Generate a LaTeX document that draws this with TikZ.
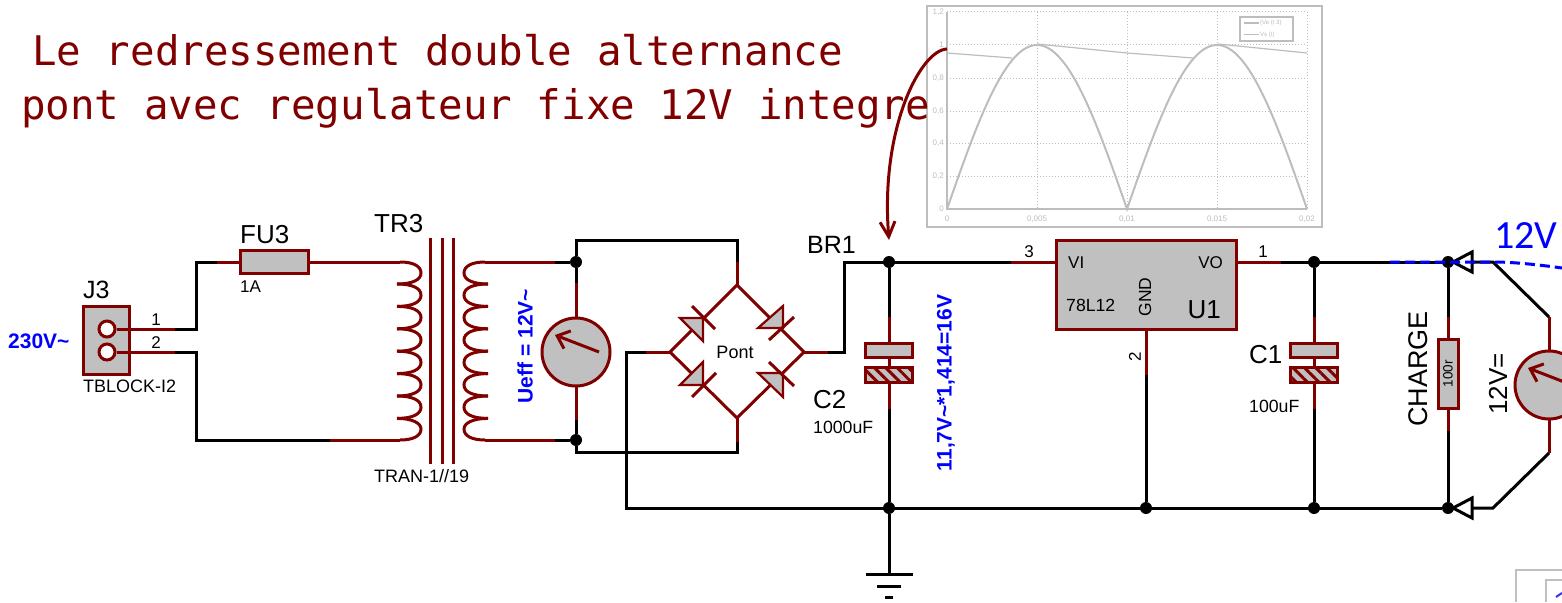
\documentclass[tikz,border=0pt]{standalone}
\usepackage{fontspec}
\setmainfont{Liberation Sans}
\newfontfamily\titlefont{DejaVu Sans Mono}
\newfontfamily\notefont{Carlito}
\usetikzlibrary{arrows.meta,patterns.meta}
\definecolor{pinred}{HTML}{800000}
\definecolor{partgray}{HTML}{C0C0C0}
\definecolor{plotgray}{HTML}{BDBDBD}

\begin{document}
\begin{tikzpicture}
   [
    x=1pt, y=-1pt,
    wire/.style={line width=3pt, draw=black, line join=miter},
    pinw/.style={line width=3pt, draw=pinred},
    partb/.style={rectangle, line width=3pt, draw=pinred, fill=partgray, inner sep=0pt},
    meter/.style={circle, line width=3pt, draw=pinred, fill=partgray, inner sep=0pt, minimum size=68pt},
    hole/.style={circle, line width=3pt, draw=pinred, fill=white, inner sep=0pt, minimum size=16pt},
    dot/.style={circle, fill=black, inner sep=0pt, minimum size=12pt},
    needle/.style={line width=3pt, draw=pinred, -{Straight Barb[length=11pt,width=19pt,line width=3pt]}},
    diode/.style={line width=2.2pt, draw=pinred, fill=partgray, line join=miter},
    hatched/.style={rectangle, line width=3pt, draw=pinred, inner sep=0pt, preaction={fill=partgray},
      pattern={Lines[angle=-45,distance=8pt,line width=3pt]}, pattern color=pinred},
    tri/.style={line width=3pt, draw=black, fill=white, line join=miter},
    txt/.style={inner sep=0pt, anchor=base west, font=\fontsize{#1}{#1}\selectfont},
    rtxt/.style={inner sep=0pt, rotate=90, font=\fontsize{#1}{#1}\selectfont},
    headline/.style={inner sep=0pt, anchor=base west, text=pinred, font=\fontsize{40.8}{41}\titlefont},
    note/.style={inner sep=0pt, rotate=90, text=blue, font=\fontsize{21}{21}\selectfont\bfseries},
    tick/.style={inner sep=0pt, text=plotgray, font=\fontsize{8}{8}\selectfont},
    grid/.style={line width=1pt, draw=plotgray, dotted},
    frame/.style={line width=2pt, draw=plotgray}
    ]

\clip (0,0) rectangle (1562,602);

% scope picture
\draw[frame] (927,6) rectangle (1322,227);
\foreach \xx in {1037,1127,1217,1307}
  \draw[grid] (\xx,12) -- (\xx,209);
\foreach \yy in {12,45,78,111,143,176}
  \draw[grid] (947,\yy) -- (1307,\yy);
\draw[line width=1.2pt, draw=plotgray] (947,12) -- (947,209) -- (1307,209);
\draw[line width=2pt, draw=plotgray, domain=0:360, samples=145]
  plot ({947+\x},{209-164*abs(sin(\x))});
\draw[line width=1.2pt, draw=plotgray] (947,53) -- (1012,58)
  (1037,44) -- (1127,53) -- (1193,58) (1218,44) -- (1307,53);
\node[tick, anchor=east] (ya) at (944,12) {1,2};
\node[tick, anchor=east] (yb) at (944,45) {1};
\node[tick, anchor=east] (yc) at (944,78) {0,8};
\node[tick, anchor=east] (yd) at (944,111) {0,6};
\node[tick, anchor=east] (ye) at (944,143) {0,4};
\node[tick, anchor=east] (yf) at (944,176) {0,2};
\node[tick, anchor=east] (yg) at (944,209) {0};
\node[tick] (xa) at (947,219) {0};
\node[tick] (xb) at (1037,219) {0,005};
\node[tick] (xc) at (1127,219) {0,01};
\node[tick] (xd) at (1217,219) {0,015};
\node[tick] (xe) at (1307,219) {0,02};
\draw[line width=1.2pt, draw=plotgray, fill=white] (1240,17) rectangle (1293,41);
\draw[line width=1.5pt, draw=plotgray] (1244,23) -- (1259,23);
\draw[line width=1pt, draw=plotgray] (1244,35) -- (1259,35);
\node[tick, anchor=west, font=\fontsize{6}{6}\selectfont] (lega) at (1260,23) {(Ve (t 3)};
\node[tick, anchor=west, font=\fontsize{6}{6}\selectfont] (legb) at (1260,35) {Vs (t)};

% title
\node[headline] (titlea) at (32,65) {Le redressement double alternance};
\node[headline] (titleb) at (21,119) {pont avec regulateur fixe 12V integre};

% corners and ends of the wires
\coordinate (brL) at (670,352);
\coordinate (brT) at (737,285);
\coordinate (brR) at (804,352);
\coordinate (brB) at (737,418);
\coordinate (scopeend) at (947,49);
\coordinate (scopetip) at (889,240);

\node[dot] (jtl) at (576,262) {};
\node[dot] (jbl) at (576,440) {};
\node[dot] (jc2t) at (889,262) {};
\node[dot] (jc2b) at (889,508) {};
\node[dot] (jgnd) at (1146,508) {};
\node[dot] (jc1t) at (1314,262) {};
\node[dot] (jc1b) at (1314,508) {};
\node[dot] (jrt) at (1448,262) {};
\node[dot] (jrb) at (1448,508) {};

% black wires
\draw[wire] (175,329) -- (196,329) -- (196,262) -- (217,262);
\draw[wire] (175,352) -- (196,352) -- (196,440) -- (330,440);
\draw[wire] (555,262) -- (jtl) -- (576,240) -- (737,240) -- (737,262);
\draw[wire] (555,440) -- (jbl) -- (576,452) -- (737,452) -- (737,442);
\draw[wire] (jtl) -- (576,283) (jbl) -- (576,420);
\draw[wire] (646,352) -- (626,352) -- (626,508) -- (jrb);
\draw[wire] (828,352) -- (844,352) -- (844,262) -- (1011,262);
\draw[wire] (1281,262) -- (jrt);
\draw[wire] (jrt) -- (1493,262) -- (1549,317);
\draw[wire] (jrb) -- (1493,508) -- (1549,453);
\draw[wire] (jc2t) -- (889,317) (889,409) -- (jc2b) -- (889,574);
\draw[wire] (jc1t) -- (1314,317) (1314,409) -- (jc1b);
\draw[wire] (jrt) -- (1448,317) (1448,431) -- (jrb);
\draw[wire] (1146,375) -- (jgnd);
\draw[wire] (866,574) -- (913,574) (877,586) -- (901,586) (885,597) -- (893,597);

% red pins
\draw[pinw] (107,329) -- (175,329) (107,352) -- (175,352);
\draw[pinw] (217,262) -- (400,262) (330,440) -- (400,440);
\draw[pinw] (485,262) -- (555,262) (485,440) -- (555,440);
\draw[pinw] (576,283) -- (576,420);
\draw[pinw] (737,262) -- (brT) (737,442) -- (brB);
\draw[pinw] (646,352) -- (brL) (828,352) -- (brR);
\draw[pinw] (1011,262) -- (1056,262) (1236,262) -- (1281,262);
\draw[pinw] (1146,329) -- (1146,375);
\draw[pinw] (889,317) -- (889,409) (1314,317) -- (1314,409);
\draw[pinw] (1448,317) -- (1448,431) (1549,317) -- (1549,453);

% connector, fuse
\node[partb, minimum width=46pt, minimum height=68pt] (J3) at (106,340) {};
\node[hole] (pina) at (107,329) {};
\node[hole] (pinb) at (107,352) {};
\draw[pinw] (pina.east) -- (129,329) (pinb.east) -- (129,352);
\node[partb, minimum width=68pt, minimum height=23pt] (FU3) at (274,261.5) {};

% transformer
\draw[pinw] (400,262) .. controls (413,262) and (421,266) .. (421,273) .. controls (421,280) and (412,284) .. (397,284);
\foreach \yy in {284,306.4,328.8,351.2,373.6,396}
  \draw[pinw] (397,\yy) .. controls (412,\yy) and (421,\yy+4) .. (421,\yy+11.2) .. controls (421,\yy+18.4) and (412,\yy+22.4) .. (397,\yy+22.4);
\draw[pinw] (397,418.4) .. controls (412,418.4) and (421,423) .. (421,429) .. controls (421,436) and (413,440) .. (400,440);
\draw[pinw] (485,262) .. controls (472,262) and (464,266) .. (464,273) .. controls (464,280) and (473,284) .. (488,284);
\foreach \yy in {284,306.4,328.8,351.2,373.6,396}
  \draw[pinw] (488,\yy) .. controls (473,\yy) and (464,\yy+4) .. (464,\yy+11.2) .. controls (464,\yy+18.4) and (473,\yy+22.4) .. (488,\yy+22.4);
\draw[pinw] (488,418.4) .. controls (473,418.4) and (464,423) .. (464,429) .. controls (464,436) and (472,440) .. (485,440);
\draw[pinw] (430,238) -- (430,464) (442,238) -- (442,464) (453,238) -- (453,464);

% meters
\node[meter] (Ueff) at (576,352) {};
\draw[needle] (599,352) -- (555,335);
\node[meter] (Vout) at (1549,385) {};
\draw[needle] (1572,385) -- (1528,368);

% bridge
\draw[pinw] (brL) -- (brT) -- (brR) -- (brB) -- cycle;
\draw[diode] (680,318) -- (703,318) -- (703,341) -- cycle;
\draw[pinw] (692,306) -- (715,329);
\draw[diode] (758,328) -- (783,328) -- (783,306) -- cycle;
\draw[pinw] (769,340) -- (794,317);
\draw[diode] (680,385) -- (703,385) -- (703,362) -- cycle;
\draw[pinw] (692,397) -- (716,373);
\draw[diode] (758,373) -- (783,373) -- (783,397) -- cycle;
\draw[pinw] (769,362) -- (794,386);

% capacitors, regulator, load
\node[partb, minimum width=47pt, minimum height=14pt] (C2top) at (889,350) {};
\node[hatched, minimum width=47pt, minimum height=15pt] (C2bot) at (889,375) {};
\node[partb, minimum width=47pt, minimum height=14pt] (C1top) at (1314,350) {};
\node[hatched, minimum width=47pt, minimum height=15pt] (C1bot) at (1314,375) {};
\node[partb, minimum width=180pt, minimum height=89pt] (U1) at (1146,284.5) {};
\node[partb, minimum width=20pt, minimum height=69pt] (R1) at (1448,373.5) {};

% terminals
\draw[tri] (1453,262) -- (1472,252) -- (1472,272) -- cycle;
\draw[tri] (1453,508) -- (1472,498) -- (1472,518) -- cycle;

% measures
\draw[line width=3pt, draw=blue, dash pattern=on 10pt off 5pt] (1390,262) -- (1493,262) .. controls (1515,262) and (1540,265) .. (1562,268);

% arrow from the curve
\draw[line width=3pt, draw=pinred, -{Straight Barb[length=15pt,width=15pt,line width=3pt]}] (scopeend) .. controls (920,50) and (880,130) .. (scopetip);

% labels
\node[txt=21, text=blue, font=\fontsize{21}{21}\selectfont\bfseries] (lmains) at (8,348) {230V\char`~};
\node[txt=25] (lJ3) at (83,298) {J3};
\node[txt=26] (lFU3) at (240,243) {FU3};
\node[txt=26] (lTR3) at (374,232) {TR3};
\node[txt=17] (l1A) at (240,292) {1A};
\node[txt=18] (lblock) at (83,392) {TBLOCK-I2};
\node[txt=17, anchor=base] (lpa) at (156,325) {1};
\node[txt=17, anchor=base] (lpb) at (156,348) {2};
\node[txt=18] (ltran) at (374,482) {TRAN-1//19};
\node[note] (lueff) at (525,346) {Ueff = 12V\char`~};
\node[txt=18, anchor=center] (lpont) at (735,352) {Pont};
\node[txt=25] (lBR1) at (807,253) {BR1};
\node[txt=26] (lC2) at (813,408) {C2};
\node[txt=17.7] (lcb) at (813,433) {1000uF};
\node[note] (lcalc) at (946,383) {11,7V\char`~*1,414=16V};
\node[txt=17] (lVI) at (1068,268) {VI};
\node[txt=17, anchor=base east] (lVO) at (1223,268) {VO};
\node[txt=17.6] (lreg) at (1066,311) {78L12};
\node[rtxt=17.5] (lGND) at (1145,297) {GND};
\node[txt=26, anchor=base east] (lU1) at (1221,318) {U1};
\node[txt=17, anchor=base] (lp3) at (1029,257) {3};
\node[txt=17, anchor=base] (lp1) at (1263,257) {1};
\node[rtxt=17] (lp2) at (1135,357) {2};
\node[txt=26] (lC1) at (1249,363) {C1};
\node[txt=17.7] (lca) at (1249,412) {100uF};
\node[rtxt=27] (lcharge) at (1418,369) {CHARGE};
\node[rtxt=13.5] (lrval) at (1448,373.5) {100r};
\node[rtxt=26] (lvout) at (1498,384) {12V=};
\node[txt=40, text=blue, font=\fontsize{40}{40}\notefont] (ltwelve) at (1494,248) {12V};

% next window
\draw[line width=2pt, draw=partgray] (1562,570) -- (1516,570) -- (1516,602);
\draw[line width=2pt, draw=partgray] (1562,580) -- (1546,580) -- (1546,602);
\draw[line width=2pt, draw=blue!80] (1556,597) -- (1562,593);
\end{tikzpicture}
\end{document}
